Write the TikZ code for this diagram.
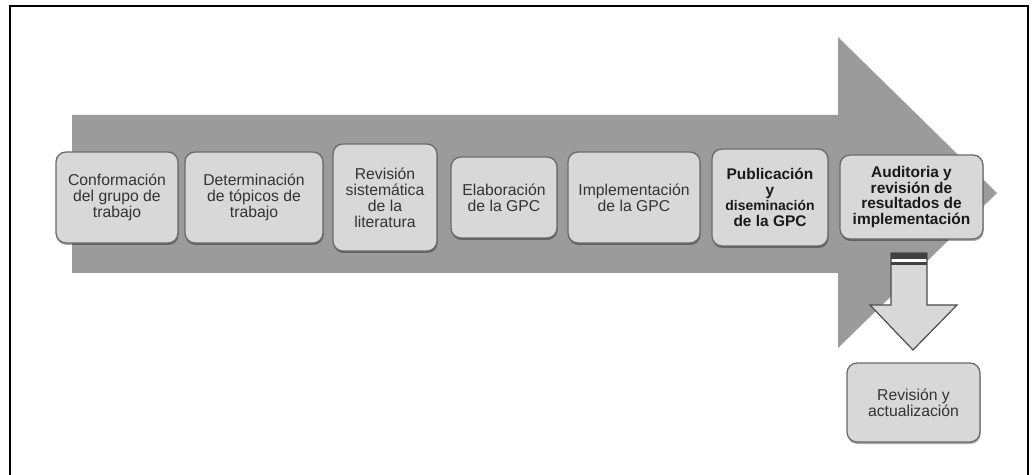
\documentclass[tikz,border=0pt]{standalone}
\usepackage{fontspec}
\setmainfont{Liberation Sans}
\usepackage{tikz}
\usetikzlibrary{shadows}

\definecolor{arrowgray}{HTML}{9B9B9B}
\definecolor{boxgray}{HTML}{D8D8D8}
\definecolor{edgegray}{HTML}{6A6A6A}

\begin{document}
\begin{tikzpicture}[
  x=1bp, y=-1bp,
  stage/.style={rectangle, draw=edgegray, line width=1.3bp, rounded corners=10bp, fill=boxgray,
    align=center, inner sep=2bp, text=black!80,
    font=\fontsize{15.8}{16}\selectfont,
    drop shadow={shadow xshift=0.5bp, shadow yshift=-2bp, fill=black, opacity=0.35}},
  keystage/.style={stage, text=black!90, font=\fontsize{15.5}{15.5}\selectfont\bfseries},
  bigarrow/.style={fill=arrowgray, draw=none},
  downarrow/.style={fill=boxgray, draw=black!70, line width=1.2bp},
  frame/.style={line width=1.6bp, draw=black}
]
\useasboundingbox (0,0) rectangle (1035,475);

% Frame
\draw[frame] (10,475) -- (10,6) -- (1028,6) -- (1028,475);

% Big arrow
\path[bigarrow] (72,115) -- (838,115) -- (838,37) -- (997,193) -- (838,348)
  -- (838,273) -- (72,273) -- cycle;

% Nodes
\node[stage, minimum width=122bp, minimum height=91bp] (B1) at (117,197.5)
  {Conformación\\del grupo de\\trabajo};
\node[stage, minimum width=138bp, minimum height=91bp] (B2) at (254,197.5)
  {Determinación\\de tópicos de\\trabajo};
\node[stage, minimum width=104bp, minimum height=107bp] (B3) at (385,197.5)
  {Revisión\\sistemática\\de la\\literatura};
\node[stage, minimum width=106bp, minimum height=81bp] (B4) at (504,197.5)
  {Elaboración\\de la GPC};
\node[stage, minimum width=132bp, minimum height=91bp] (B5) at (634,197.5)
  {Implementación\\de la GPC};
\node[keystage, minimum width=116bp, minimum height=97bp] (B6) at (770,197.5)
  {Publicación\\y\\{\fontsize{14}{15.5}\selectfont diseminación}\\de la GPC};
\node[keystage, minimum width=143bp, minimum height=84bp] (B7) at (911.5,197)
  {Auditoria y\\revisión de\\resultados de\\implementación};
\node[stage, minimum width=133bp, minimum height=79bp] (B8) at (913.5,402.5)
  {Revisión y\\actualización};

% Down arrow
\path[downarrow] (891,253) -- (927,253) -- (927,305) -- (957,305) -- (913,350)
  -- (870,305) -- (891,305) -- cycle;
\fill[black!75] (891,253) rectangle (927,259);
\fill[white] (892,259) rectangle (926,262);
\fill[black!75] (891,262) rectangle (927,265);

\end{tikzpicture}
\end{document}
